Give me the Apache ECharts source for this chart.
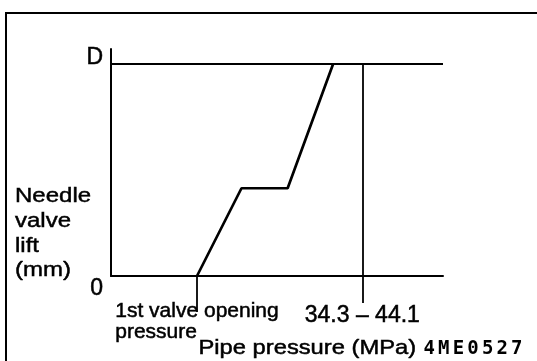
<!DOCTYPE html>
<html>
<head>
<meta charset="utf-8">
<script src="https://cdn.jsdelivr.net/npm/echarts@6/dist/echarts.min.js"></script>
<style>
  html, body { margin: 0; padding: 0; background: #fff; }
  #chart { width: 537px; height: 361px; }
</style>
</head>
<body>
<div id="chart"></div>
<script>
// Pipe pressure runs on a schematic 0–100 scale; only the marked points are labelled.
const pressureMarks = [25.9, 75.7];
const pressureMarkLabels = ['1st valve opening\npressure', '34.3 – 44.1'];
// Needle lift: 0 (closed) to D (full lift).
const liftLevels = [0, 1];
const liftLevelLabels = ['0', 'D'];
// Two-stage lift characteristic.
const curvePressure = [25.9, 39.3, 53.2, 66.9];
const curveLift = [0, 0.414, 0.414, 1];
// Full-lift reference line and the specified pressure range mark.
const fullLiftExtent = [0, 100];
const rangeMark = 75.7;
const xTitle = 'Pipe pressure (MPa)';
const yTitle = 'Needle\nvalve\nlift\n(mm)';
const figureCode = '4ME0527';

const FONT = '"Liberation Sans", Arial, Helvetica, sans-serif';
const INK = '#000';
// a hairline outline gives the printed lettering its heavier weight
const INK_EDGE = { textBorderColor: INK, textBorderWidth: 0.5 };

const chart = echarts.init(document.getElementById('chart'), null, { renderer: 'canvas' });

function markIndex(list, v) {
  return list.findIndex(m => Math.abs(m - v) < 1e-6);
}

const option = {
  animation: false,
  backgroundColor: '#fff',
  grid: { left: 111, right: 94, top: 49, bottom: 85, containLabel: false, outerBoundsMode: 'none' },
  xAxis: [
    {
      type: 'value', min: 0, max: 100, position: 'bottom',
      axisLine: { show: true, onZero: false, lineStyle: { color: INK, width: 2 } },
      axisTick: { show: true, customValues: [pressureMarks[1]], length: 27, lineStyle: { color: INK, width: 1.8 } },
      splitLine: { show: false },
      axisLabel: {
        show: true,
        customValues: pressureMarks,
        margin: 24.5,
        color: INK,
        fontFamily: FONT,
        formatter: v => {
          const i = markIndex(pressureMarks, v);
          if (i === 0) return pressureMarkLabels[0].split('\n').map(s => '{open|' + s + '}').join('\n');
          if (i === 1) return '{range|' + pressureMarkLabels[1] + '}';
          return '';
        },
        rich: {
          open: Object.assign({ fontSize: 21, lineHeight: 21, align: 'left', color: INK, fontFamily: FONT }, INK_EDGE),
          range: Object.assign({ fontSize: 23, lineHeight: 30, color: INK, fontFamily: FONT }, INK_EDGE)
        }
      }
    },
    {
      // carries only the long tick under the opening-pressure point
      type: 'value', min: 0, max: 100, position: 'bottom', offset: 0,
      axisLine: { show: false },
      axisTick: { show: true, customValues: [pressureMarks[0]], length: 36, lineStyle: { color: INK, width: 1.8 } },
      axisLabel: { show: false },
      splitLine: { show: false }
    }
  ],
  yAxis: {
    type: 'value', min: 0, max: 1.0708,
    axisLine: { show: true, lineStyle: { color: INK, width: 2 } },
    axisTick: { show: false },
    splitLine: { show: false },
    axisLabel: {
      show: true,
      customValues: liftLevels,
      margin: 8,
      color: INK,
      fontFamily: FONT,
      formatter: v => {
        const i = markIndex(liftLevels, v);
        if (i === 1) return '{top|' + liftLevelLabels[1] + '}\n{top| }';
        if (i === 0) return '{base| }\n{base|' + liftLevelLabels[0] + '}';
        return '';
      },
      rich: {
        top: Object.assign({ fontSize: 23, lineHeight: 12, color: INK, fontFamily: FONT }, INK_EDGE),
        base: Object.assign({ fontSize: 23, lineHeight: 26, color: INK, fontFamily: FONT }, INK_EDGE)
      }
    }
  },
  series: [
    {
      name: 'Needle valve lift',
      type: 'line',
      data: curvePressure.map((x, i) => [x, curveLift[i]]),
      showSymbol: false,
      symbol: 'none',
      lineStyle: { color: INK, width: 2.7 },
      z: 5,
      markLine: {
        silent: true,
        symbol: 'none',
        label: { show: false },
        lineStyle: { color: INK, width: 1.8, type: 'solid' },
        data: [[{ coord: [rangeMark, liftLevels[0]] }, { coord: [rangeMark, liftLevels[1]] }]]
      }
    },
    {
      name: 'Full lift D',
      type: 'line',
      data: fullLiftExtent.map(x => [x, liftLevels[1]]),
      showSymbol: false,
      symbol: 'none',
      lineStyle: { color: INK, width: 2.2 },
      z: 4
    }
  ],
  graphic: [
    {
      type: 'rect', silent: true,
      shape: { x: 6, y: 13, width: 620, height: 420 },
      style: { fill: 'none', stroke: INK, lineWidth: 2 }
    },
    {
      type: 'text', silent: true,
      x: 15, y: 184, scaleX: 1.2,
      style: { text: yTitle, font: '20px ' + FONT, fill: INK, stroke: INK, lineWidth: 0.45, lineHeight: 24.8, align: 'left', verticalAlign: 'top' }
    },
    {
      type: 'text', silent: true,
      x: 198.5, y: 348.2, scaleX: 1.13,
      style: { text: xTitle, font: '21px ' + FONT, fill: INK, stroke: INK, lineWidth: 0.5, align: 'left', verticalAlign: 'middle' }
    },
    {
      type: 'text', silent: true,
      x: 423.5, y: 349.3,
      style: {
        text: figureCode.split('').map(c => '{c|' + c + '}').join(''),
        align: 'left', verticalAlign: 'middle',
        rich: { c: { width: 14.6, fontSize: 19, fontWeight: 'bold', fontFamily: '"DejaVu Sans Mono", monospace', fill: INK } }
      }
    }
  ]
};

chart.setOption(option);
</script>
</body>
</html>
